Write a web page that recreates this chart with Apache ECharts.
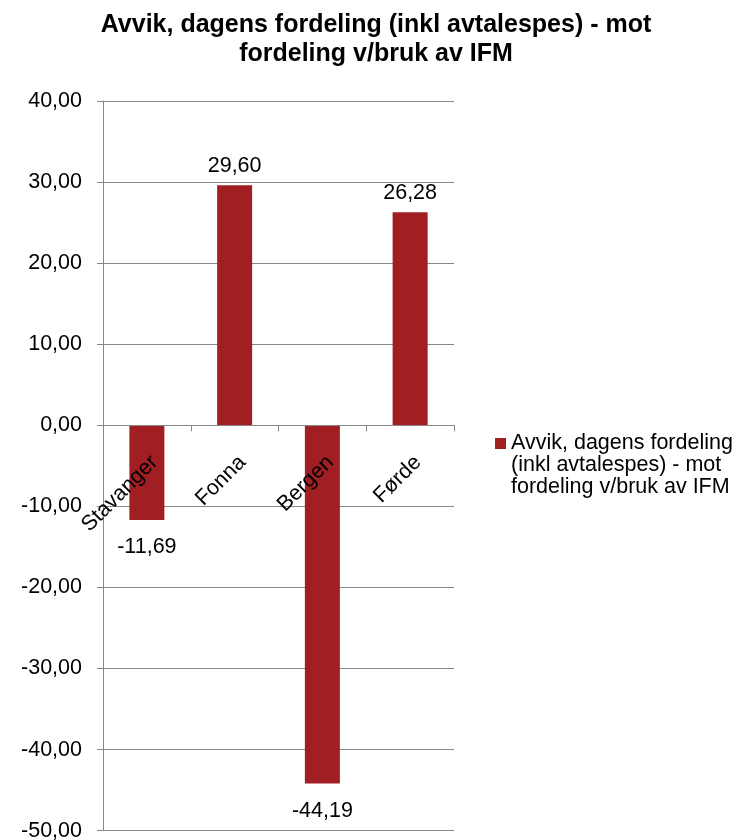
<!DOCTYPE html>
<html>
<head>
<meta charset="utf-8">
<title>Avvik, dagens fordeling</title>
<script src="https://cdn.jsdelivr.net/npm/echarts@6/dist/echarts.min.js"></script>
<style>
  html, body { margin: 0; padding: 0; background: #ffffff; }
  #chart { width: 733px; height: 840px; }
</style>
</head>
<body>
<div id="chart"></div>
<script>
// Regions and the deviation for each (percentage points)
const categories = ['Stavanger', 'Fonna', 'Bergen', 'Førde'];
const deviation = [-11.69, 29.60, -44.19, 26.28];
const seriesName = 'Avvik, dagens fordeling (inkl avtalespes) - mot fordeling v/bruk av IFM';
const legendLines = ['Avvik, dagens fordeling', '(inkl avtalespes) - mot', 'fordeling v/bruk av IFM'];
const titleLines = ['Avvik, dagens fordeling (inkl avtalespes) - mot', 'fordeling v/bruk av IFM'];
const yMin = -50, yMax = 40, yStep = 10;

const FONT = '"Liberation Sans", Arial, sans-serif';
const BAR = '#A11E22';
const GRID = '#878787';

const W = 733, H = 840;
const GRID_BOX = { left: 103, right: 279, top: 101, bottom: 9.3 };
const plotHeight = H - GRID_BOX.top - GRID_BOX.bottom;
// lift the category axis from the grid bottom up to the zero line
const zeroOffset = -((0 - yMin) / (yMax - yMin)) * plotHeight;

const fmt = v => v.toFixed(2).replace('.', ',');

const chart = echarts.init(document.getElementById('chart'), null, { renderer: 'canvas' });

chart.setOption({
  animation: false,
  backgroundColor: '#ffffff',
  textStyle: { fontFamily: FONT },
  title: {
    text: titleLines.join('\n'),
    left: 376,
    top: 11,
    padding: 0,
    textAlign: 'center',
    textStyle: { fontFamily: FONT, fontSize: 25, fontWeight: 'bold', color: '#000', lineHeight: 29 }
  },
  legend: {
    left: 495,
    top: 388.5,
    padding: 0,
    itemWidth: 11,
    itemHeight: 11,
    icon: 'rect',
    // two leading blank lines keep the first text line level with the swatch
    formatter: () => ['', ''].concat(legendLines).join('\n'),
    textStyle: { fontFamily: FONT, fontSize: 21.5, color: '#000', lineHeight: 22 },
    data: [seriesName]
  },
  grid: Object.assign({ containLabel: false, outerBoundsMode: 'none' }, GRID_BOX),
  xAxis: {
    type: 'category',
    data: categories,
    offset: zeroOffset,
    z: 5,
    axisLine: { onZero: false, lineStyle: { color: GRID, width: 1 } },
    axisTick: { show: true, length: 6, lineStyle: { color: GRID } },
    axisLabel: {
      interval: 0, rotate: 45, align: 'right', verticalAlign: 'top', margin: 26,
      fontFamily: FONT, fontSize: 21.5, color: '#000'
    },
    splitLine: { show: false }
  },
  yAxis: {
    type: 'value',
    min: yMin, max: yMax, interval: yStep,
    axisLine: { show: true, lineStyle: { color: GRID, width: 1 } },
    axisTick: { show: true, length: 6, lineStyle: { color: GRID } },
    axisLabel: { margin: 21, formatter: fmt, fontFamily: FONT, fontSize: 21.5, color: '#000' },
    splitLine: { show: true, lineStyle: { color: GRID, width: 1 } }
  },
  series: [{
    name: seriesName,
    type: 'bar',
    barWidth: 35,
    itemStyle: { color: BAR },
    data: deviation.map(v => ({
      value: v,
      label: {
        show: true,
        position: v < 0 ? 'bottom' : 'top',
        distance: v < 0 ? 16 : 8,
        formatter: p => fmt(p.value),
        fontFamily: FONT, fontSize: 21.5, color: '#000'
      }
    }))
  }]
});
</script>
</body>
</html>
